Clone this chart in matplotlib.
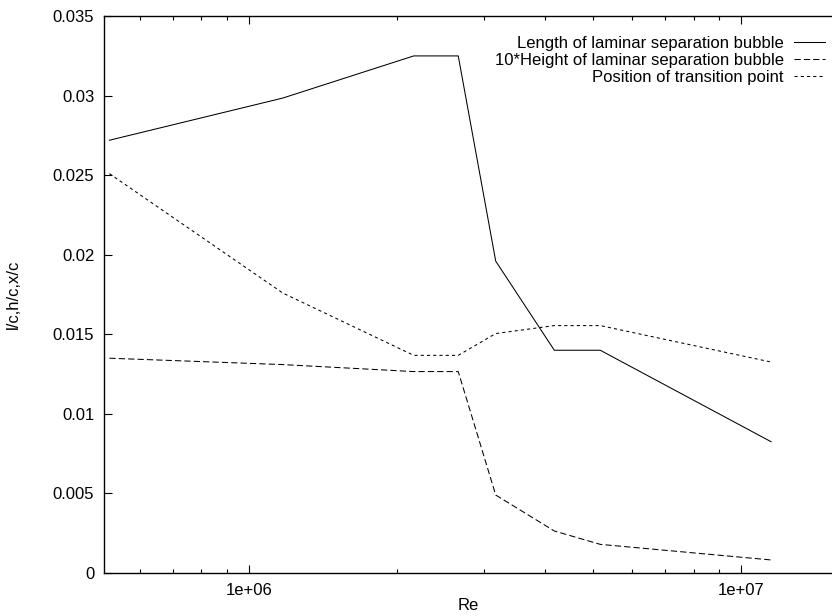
import matplotlib
matplotlib.use("Agg")
from matplotlib import pyplot as plt
from matplotlib import ticker
import numpy as np

# values
re = [5.2e5, 1.17e6, 2.16e6, 2.66e6, 3.17e6, 4.17e6, 5.17e6, 1.15e7]
bubble_length = [0.0272, 0.02985, 0.0325, 0.0325, 0.0196, 0.0140, 0.0140, 0.00825]
bubble_height10 = [0.0135, 0.0131, 0.01266, 0.01266, 0.0049, 0.00264, 0.0018, 0.00082]
transition = [0.0251, 0.0176, 0.01368, 0.01368, 0.01505, 0.01555, 0.01555, 0.01326]
labels = ["Length of laminar separation bubble",
          "10*Height of laminar separation bubble",
          "Position of transition point"]

plt.rcParams['font.family'] = ['Liberation Sans', 'DejaVu Sans']
fs = 12

fig = plt.figure(figsize=(8.32, 6.16), dpi=100)
ax = fig.add_axes([0.125, 0.0698, 0.875, 0.904])

lw = 0.75
ax.plot(re, bubble_length, color='black', lw=lw, label=labels[0])
ax.plot(re, bubble_height10, color='black', lw=lw, dashes=(6, 3), label=labels[1])
ax.plot(re, transition, color='black', lw=lw, dashes=(3, 3), label=labels[2])

ax.set_xscale('log')
ax.set_xlim(5.07e5, 1.529e7)
ax.set_ylim(0, 0.035)
ax.set_yticks(np.arange(0, 0.0351, 0.005))
ax.yaxis.set_major_formatter(ticker.FuncFormatter(lambda v, p: '%g' % round(v, 4)))
ax.xaxis.set_major_formatter(ticker.FuncFormatter(lambda v, p: '%g' % v))
ax.xaxis.set_minor_formatter(ticker.NullFormatter())

ax.spines['right'].set_visible(False)
for s in ax.spines.values():
    s.set_linewidth(1.0)
ax.tick_params(which='both', direction='in', top=True, right=False, labelsize=fs, width=0.8)
ax.tick_params(which='major', length=6, pad=7)
ax.tick_params(which='minor', length=3)

ax.set_xlabel('Re', fontsize=fs, labelpad=0)
ax.set_ylabel('l/c,h/c,x/c', fontsize=fs, labelpad=23)

ax.legend(loc='upper right', frameon=False, markerfirst=False, alignment='right',
          fontsize=fs, handlelength=1.9, handletextpad=0.6, labelspacing=0.12,
          borderaxespad=0.0, bbox_to_anchor=(1.0, 0.976))

fig.savefig('out.png', dpi=100)
